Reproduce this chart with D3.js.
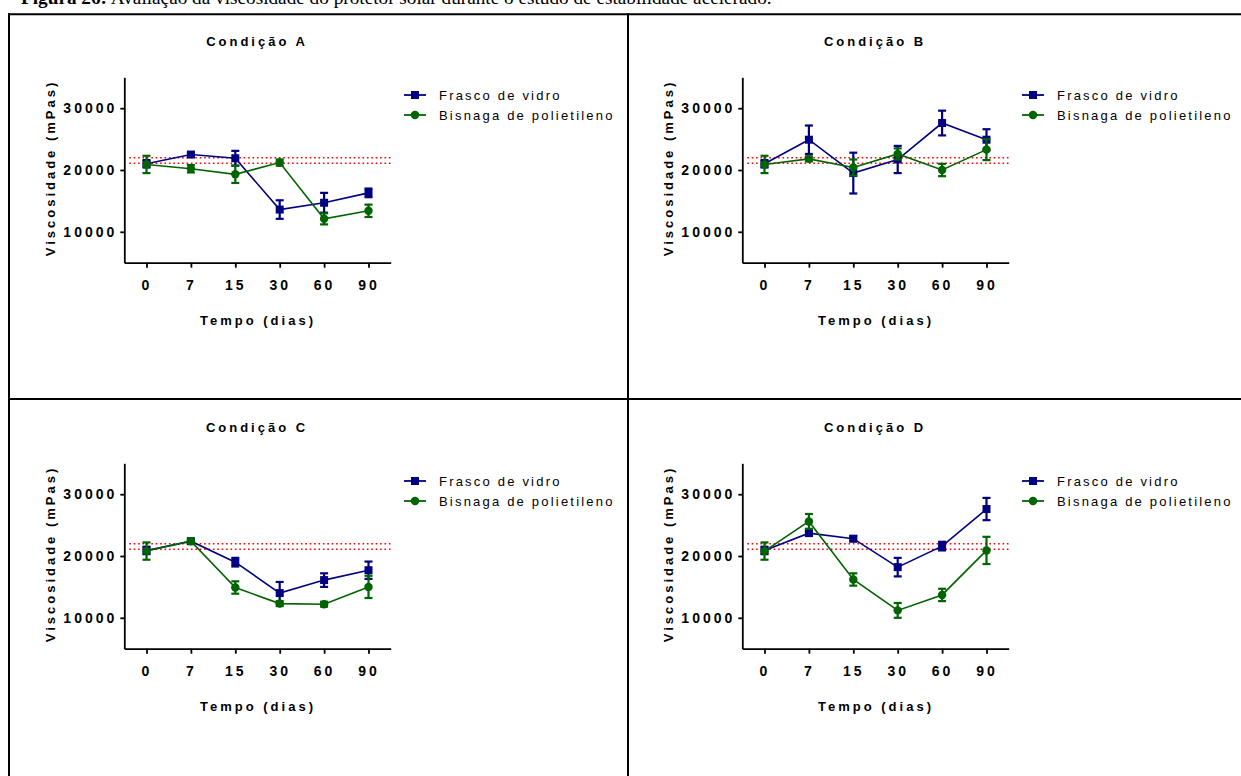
<!DOCTYPE html>
<html>
<head>
<meta charset="utf-8">
<script src="https://cdn.jsdelivr.net/npm/d3@7"></script>
<style>
  body { margin: 0; background: #fff; }
  svg { display: block; }
</style>
</head>
<body>
<div id="chart"></div>
<script>
// Data (mean and error per sampling day).
const days = ["0", "7", "15", "30", "60", "90"];
const panelTitles = ["Condição A", "Condição B", "Condição C", "Condição D"];
const seriesNames = ["Frasco de vidro", "Bisnaga de polietileno"];
const yTicks = [10000, 20000, 30000];
const refLines = [22000, 21100];

const frascoA    = [21000, 22500, 21900, 13600, 14700, 16300];
const frascoAErr = [600, 300, 1200, 1500, 1600, 700];
const bisnagaA    = [20900, 20200, 19300, 21200, 12100, 13400];
const bisnagaAErr = [1400, 600, 1400, 500, 900, 1000];

const frascoB    = [21000, 24900, 19500, 21700, 27600, 24900];
const frascoBErr = [600, 2300, 3300, 2200, 2000, 1700];
const bisnagaB    = [20900, 21800, 20400, 22600, 20000, 23300];
const bisnagaBErr = [1400, 400, 1300, 900, 1000, 1700];

const frascoC    = [20900, 22400, 19000, 14000, 16100, 17700];
const frascoCErr = [600, 300, 700, 1800, 1100, 1400];
const bisnagaC    = [20800, 22400, 14900, 12300, 12200, 15000];
const bisnagaCErr = [1400, 300, 1000, 400, 400, 1800];

const frascoD    = [20900, 23700, 22800, 18200, 21600, 27600];
const frascoDErr = [600, 400, 400, 1500, 700, 1800];
const bisnagaD    = [20800, 25600, 16200, 11200, 13700, 20900];
const bisnagaDErr = [1400, 1200, 1000, 1200, 1000, 2200];

const WIDTH = 1241, HEIGHT = 776;
const BLUE = "#000080", GREEN = "#006400";
const SANS = "'Liberation Sans', Arial, sans-serif";

// plot area of the first panel, the others are shifted
const PLOT = {left: 124.3, right: 390.7, top: 77.3, bottom: 262.7};
const OFFSETS = [[0, 0], [618, 0], [0, 386], [618, 386]];

const panels = [
  [[frascoA, frascoAErr], [bisnagaA, bisnagaAErr]],
  [[frascoB, frascoBErr], [bisnagaB, bisnagaBErr]],
  [[frascoC, frascoCErr], [bisnagaC, bisnagaCErr]],
  [[frascoD, frascoDErr], [bisnagaD, bisnagaDErr]]
];

const svg = d3.select("#chart").append("svg")
    .attr("width", WIDTH)
    .attr("height", HEIGHT);

svg.append("rect").attr("width", WIDTH).attr("height", HEIGHT).attr("fill", "#fff");

// caption, cut by the top of the page
const cap = svg.append("text")
    .attr("x", 21).attr("y", 4)
    .attr("font-family", "'Liberation Serif', 'Times New Roman', serif")
    .attr("font-size", 17)
    .attr("fill", "#000");
cap.append("tspan").attr("font-weight", "bold").text("Figura 26:");
cap.append("tspan").text(" Avaliação da viscosidade do protetor solar durante o estudo de estabilidade acelerado.");
var capLen = cap.node().getComputedTextLength();
cap.attr("font-size", 17 * 751 / capLen);

// table borders
const border = svg.append("g").attr("stroke", "#000").attr("stroke-width", 2);
border.append("line").attr("x1", 8).attr("x2", WIDTH).attr("y1", 14.3).attr("y2", 14.3);
border.append("line").attr("x1", 9).attr("x2", 9).attr("y1", 13.3).attr("y2", HEIGHT);
border.append("line").attr("x1", 628).attr("x2", 628).attr("y1", 13.3).attr("y2", HEIGHT);
border.append("line").attr("x1", 8).attr("x2", WIDTH).attr("y1", 399).attr("y2", 399);

const x = d3.scalePoint().domain(days).range([PLOT.left, PLOT.right]).padding(0.5);
const y = d3.scaleLinear().domain([5000, 35000]).range([PLOT.bottom, PLOT.top]);

panels.forEach(function (series, p) {
  var g = svg.append("g")
      .attr("transform", "translate(" + OFFSETS[p][0] + "," + OFFSETS[p][1] + ")");

  // title
  g.append("text")
      .attr("x", 257).attr("y", 45.5)
      .attr("text-anchor", "middle")
      .attr("font-family", SANS).attr("font-weight", "bold")
      .attr("font-size", 13).style("letter-spacing", "3px")
      .text(panelTitles[p]);

  // reference band (dotted red)
  g.selectAll(".ref").data(refLines).enter().append("line")
      .attr("x1", PLOT.left + 5).attr("x2", PLOT.right)
      .attr("y1", d => y(d)).attr("y2", d => y(d))
      .attr("stroke", "#ff0000").attr("stroke-width", 1.5)
      .attr("stroke-dasharray", "1.6,2.8");

  // axes
  var yAxis = g.append("g")
      .attr("transform", "translate(" + PLOT.left + ",0)")
      .call(d3.axisLeft(y).tickValues(yTicks).tickSize(4).tickSizeOuter(0)
            .tickPadding(3).tickFormat(d3.format("d")));
  var xAxis = g.append("g")
      .attr("transform", "translate(0," + PLOT.bottom + ")")
      .call(d3.axisBottom(x).tickSize(5).tickSizeOuter(0).tickPadding(12));
  [xAxis, yAxis].forEach(function (ax) {
    ax.select(".domain").attr("stroke", "#000").attr("stroke-width", 1.8);
    ax.selectAll(".tick line").attr("stroke", "#000").attr("stroke-width", 1.8);
    ax.selectAll(".tick text")
        .attr("fill", "#000")
        .attr("font-family", SANS).attr("font-weight", "bold")
        .attr("font-size", 14).style("letter-spacing", "3px");
  });

  // axis titles
  g.append("text")
      .attr("x", 258).attr("y", 324.5)
      .attr("text-anchor", "middle")
      .attr("font-family", SANS).attr("font-weight", "bold")
      .attr("font-size", 13).style("letter-spacing", "3px")
      .text("Tempo (dias)");
  g.append("text")
      .attr("transform", "translate(54.5,168) rotate(-90)")
      .attr("text-anchor", "middle")
      .attr("font-family", SANS).attr("font-weight", "bold")
      .attr("font-size", 13).style("letter-spacing", "3px")
      .text("Viscosidade (mPas)");

  // series
  series.forEach(function (s, k) {
    var color = k == 0 ? BLUE : GREEN;
    var pts = days.map(function (d, i) { return {day: d, v: s[0][i], e: s[1][i]}; });
    var sg = g.append("g");

    sg.append("path")
        .datum(pts)
        .attr("fill", "none").attr("stroke", color).attr("stroke-width", 1.6)
        .attr("d", d3.line().x(d => x(d.day)).y(d => y(d.v)));

    var eb = sg.selectAll(".err").data(pts).enter().append("g")
        .attr("stroke", color).attr("stroke-width", 2.2);
    eb.append("line")
        .attr("x1", d => x(d.day)).attr("x2", d => x(d.day))
        .attr("y1", d => y(d.v - d.e)).attr("y2", d => y(d.v + d.e));
    eb.append("line")
        .attr("x1", d => x(d.day) - 4).attr("x2", d => x(d.day) + 4)
        .attr("y1", d => y(d.v + d.e)).attr("y2", d => y(d.v + d.e));
    eb.append("line")
        .attr("x1", d => x(d.day) - 4).attr("x2", d => x(d.day) + 4)
        .attr("y1", d => y(d.v - d.e)).attr("y2", d => y(d.v - d.e));

    var sym = k == 0 ? d3.symbolSquare : d3.symbolCircle;
    var size = k == 0 ? 64 : 56;
    sg.selectAll(".pt").data(pts).enter().append("path")
        .attr("transform", d => "translate(" + x(d.day) + "," + y(d.v) + ")")
        .attr("d", d3.symbol().type(sym).size(size))
        .attr("fill", color);

    // legend
    var ly = 95 + k * 20;
    var lg = g.append("g");
    lg.append("line")
        .attr("x1", 404).attr("x2", 426).attr("y1", ly).attr("y2", ly)
        .attr("stroke", color).attr("stroke-width", 1.8);
    lg.append("path")
        .attr("transform", "translate(415," + ly + ")")
        .attr("d", d3.symbol().type(sym).size(size))
        .attr("fill", color);
    lg.append("text")
        .attr("x", 439).attr("y", ly)
        .attr("dy", "0.35em")
        .attr("font-family", SANS).attr("font-size", 13)
        .style("letter-spacing", "2.2px")
        .attr("fill", "#000")
        .text(seriesNames[k]);
  });
});
</script>
</body>
</html>
